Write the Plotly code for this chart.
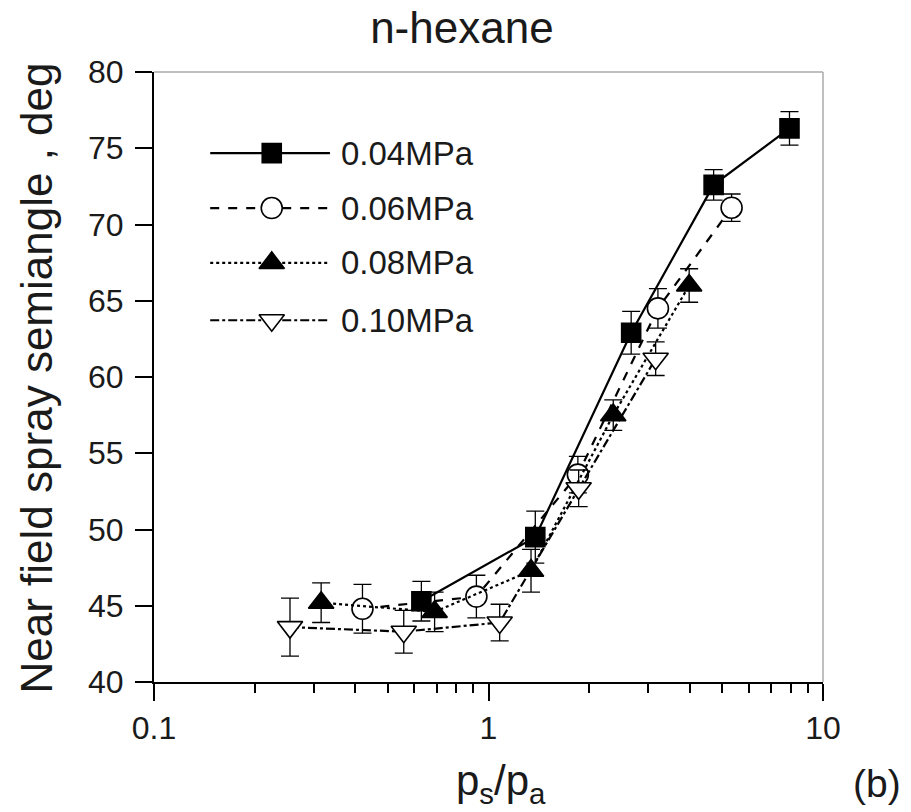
import plotly.graph_objects as go

# ---- data ----
series_names = ["0.04MPa", "0.06MPa", "0.08MPa", "0.10MPa"]

x_004 = [0.63, 1.38, 2.67, 4.71, 7.94]
y_004 = [45.3, 49.5, 62.9, 72.6, 76.3]
e_004 = [1.3, 1.7, 1.4, 1.0, 1.1]

x_006 = [0.42, 0.92, 1.85, 3.21, 5.33]
y_006 = [44.8, 45.6, 53.6, 64.5, 71.1]
e_006 = [1.6, 1.4, 1.2, 1.3, 0.9]

x_008 = [0.316, 0.69, 1.34, 2.36, 3.98]
y_008 = [45.2, 44.6, 47.3, 57.5, 66.0]
e_008 = [1.3, 1.3, 1.4, 1.0, 1.1]

x_010 = [0.255, 0.558, 1.08, 1.86, 3.16]
y_010 = [43.6, 43.3, 43.9, 52.7, 61.2]
e_010 = [1.9, 1.4, 1.2, 1.2, 1.1]

x_major_ticks = [0.1, 1, 10]
x_tick_labels = ["0.1", "1", "10"]
x_minor_ticks = [0.2, 0.3, 0.4, 0.5, 0.6, 0.7, 0.8, 0.9, 2, 3, 4, 5, 6, 7, 8, 9]
y_ticks = [40, 45, 50, 55, 60, 65, 70, 75, 80]

# ---- styles ----
FONT = "Liberation Sans, Arial, sans-serif"
TXT = "#1a1a1a"
styles = [
    dict(dash="solid", symbol="square", fill="black", size=19),
    dict(dash="dash", symbol="circle", fill="white", size=21),
    dict(dash="dot", symbol="triangle-up", fill="black", size=22),
    dict(dash="dashdot", symbol="triangle-down", fill="white", size=22),
]
all_x = [x_004, x_006, x_008, x_010]
all_y = [y_004, y_006, y_008, y_010]
all_e = [e_004, e_006, e_008, e_010]

fig = go.Figure()
for name, xs, ys, es, st in zip(series_names, all_x, all_y, all_e, styles):
    fig.add_trace(go.Scatter(
        x=xs, y=ys, name=name, mode="lines+markers",
        line=dict(color="black", width=2.2, dash=st["dash"]),
        marker=dict(symbol=st["symbol"], size=st["size"], color=st["fill"],
                    line=dict(color="black", width=1.6)),
        error_y=dict(type="data", array=es, visible=True, color="black",
                     thickness=1.3, width=9),
        showlegend=False,
    ))

# ---- hand-drawn legend on an overlay axis (0..1 in plot-area fraction) ----
leg_x0, leg_xm, leg_x1, leg_tx = 0.084, 0.176, 0.263, 0.276
leg_rows = [0.867, 0.777, 0.687, 0.593]
for name, st, yr in zip(series_names, styles, leg_rows):
    fig.add_trace(go.Scatter(
        x=[leg_x0, leg_x1], y=[yr, yr], mode="lines", xaxis="x2", yaxis="y2",
        line=dict(color="black", width=2.2, dash=st["dash"]), showlegend=False,
        hoverinfo="skip"))
    fig.add_trace(go.Scatter(
        x=[leg_xm], y=[yr], mode="markers", xaxis="x2", yaxis="y2",
        marker=dict(symbol=st["symbol"], size=st["size"], color=st["fill"],
                    line=dict(color="black", width=1.6)),
        showlegend=False, hoverinfo="skip"))
    fig.add_annotation(x=leg_tx, y=yr, xref="paper", yref="paper", text=name,
                       showarrow=False, xanchor="left", yanchor="middle",
                       font=dict(family=FONT, size=33, color=TXT))

fig.update_layout(
    width=911, height=812,
    margin=dict(l=154, r=88, t=72, b=130),
    paper_bgcolor="white", plot_bgcolor="white",
    font=dict(family=FONT, color=TXT),
    title=dict(text="n-hexane", xref="container", x=0.507, xanchor="center",
               yref="container", y=0.966, yanchor="middle",
               font=dict(family=FONT, size=44, color=TXT)),
    xaxis=dict(
        type="log", range=[-1, 1], tickvals=x_major_ticks, ticktext=x_tick_labels,
        ticks="outside", ticklen=17, tickwidth=2, tickcolor="black",
        minor=dict(tickvals=x_minor_ticks, ticks="outside", ticklen=9,
                   tickwidth=1.5, tickcolor="black", showgrid=False),
        showline=True, linecolor="black", linewidth=2, showgrid=False,
        zeroline=False, tickfont=dict(family=FONT, size=32, color=TXT),
    ),
    yaxis=dict(
        range=[40, 80], tickvals=y_ticks, ticks="outside", ticklen=17,
        tickwidth=2, tickcolor="black", showline=True, linecolor="black",
        linewidth=2, showgrid=False, zeroline=False, ticklabelstandoff=5,
        tickfont=dict(family=FONT, size=32, color=TXT),
    ),
    xaxis2=dict(range=[0, 1], overlaying="x", visible=False, fixedrange=True),
    yaxis2=dict(range=[0, 1], overlaying="y", visible=False, fixedrange=True),
)

# light frame on top and right
fig.add_shape(type="line", xref="paper", yref="paper", x0=0, x1=1, y0=1, y1=1,
              line=dict(color="#aaa", width=1.5))
fig.add_shape(type="line", xref="paper", yref="paper", x0=1, x1=1, y0=0, y1=1,
              line=dict(color="#aaa", width=1.5))

# axis titles as annotations for exact placement
fig.add_annotation(text="Near field spray semiangle , deg", xref="paper", yref="paper",
                   x=-0.176, y=0.498, textangle=-90, xanchor="center", yanchor="middle",
                   showarrow=False, font=dict(family=FONT, size=44, color=TXT))
fig.add_annotation(text="p<sub>s</sub>/p<sub>a</sub>", xref="paper", yref="paper",
                   x=0.519, y=-0.166, xanchor="center", yanchor="middle",
                   showarrow=False, font=dict(family=FONT, size=42, color=TXT))
fig.add_annotation(text="(b)", xref="paper", yref="paper", x=1.081, y=-0.166,
                   xanchor="center", yanchor="middle", showarrow=False,
                   font=dict(family=FONT, size=39, color=TXT))

fig.write_html("out.html")
